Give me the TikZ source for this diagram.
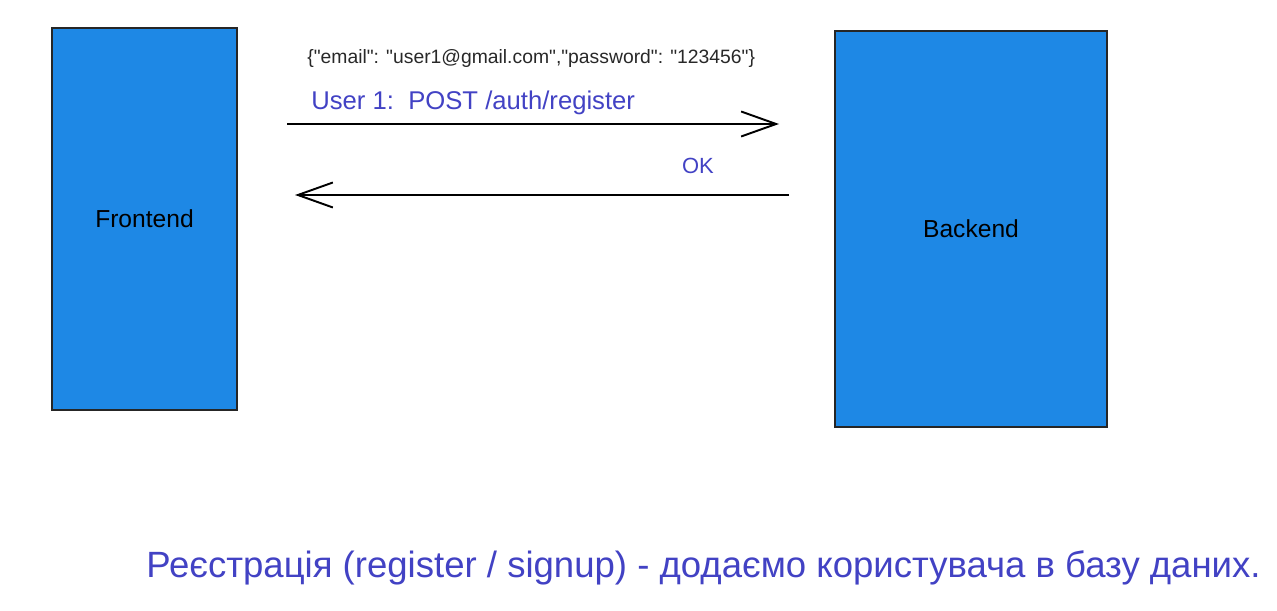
\documentclass[tikz,border=0pt]{standalone}
\usepackage{fontspec}
\setmainfont{Liberation Sans}
\usetikzlibrary{arrows.meta}
\definecolor{boxblue}{RGB}{30,136,229}
\definecolor{inkblue}{RGB}{66,66,196}
\definecolor{inkgray}{RGB}{40,40,40}
\begin{document}
\begin{tikzpicture}[>={Straight Barb[length=0.7cm,width=0.5cm]},
side/.style={draw=black!85,line width=0.9pt,fill=boxblue,font=\fontsize{14}{16}\selectfont},
msg/.style={anchor=west,text=inkblue,inner sep=0pt}]
\useasboundingbox (0,0) rectangle (25.54,12.2);
\node[side,minimum width=3.7cm,minimum height=7.64cm] (front) at (2.89,7.82) {Frontend};
\node[side,minimum width=5.44cm,minimum height=7.92cm] (back) at (19.42,7.62) {Backend};
\coordinate (req a) at (5.74,9.72);
\coordinate (req b) at (15.58,9.72);
\coordinate (res a) at (15.78,8.30);
\coordinate (res b) at (5.90,8.30);
\node[msg,text=inkgray,font=\fontsize{11}{13}\selectfont] (body) at (6.14,11.02) {\{\textquotedbl email\textquotedbl: \textquotedbl user1@gmail.com\textquotedbl,\textquotedbl password\textquotedbl: \textquotedbl 123456\textquotedbl\}};
\node[msg,font=\fontsize{14.6}{17}\selectfont] (route) at (6.22,10.14) {User 1:\ \ POST /auth/register};
\node[text=inkblue,inner sep=0pt,font=\fontsize{12.5}{15}\selectfont] (ok) at (13.96,8.88) {OK};
\node[msg,font=\fontsize{20.8}{24}\selectfont] (note) at (2.92,0.84) {Реєстрація (register / signup) - додаємо користувача в базу даних.};
\path[->,line width=1.1pt] (req a) edge (req b);
\path[->,line width=1.1pt] (res a) edge (res b);
\end{tikzpicture}
\end{document}
